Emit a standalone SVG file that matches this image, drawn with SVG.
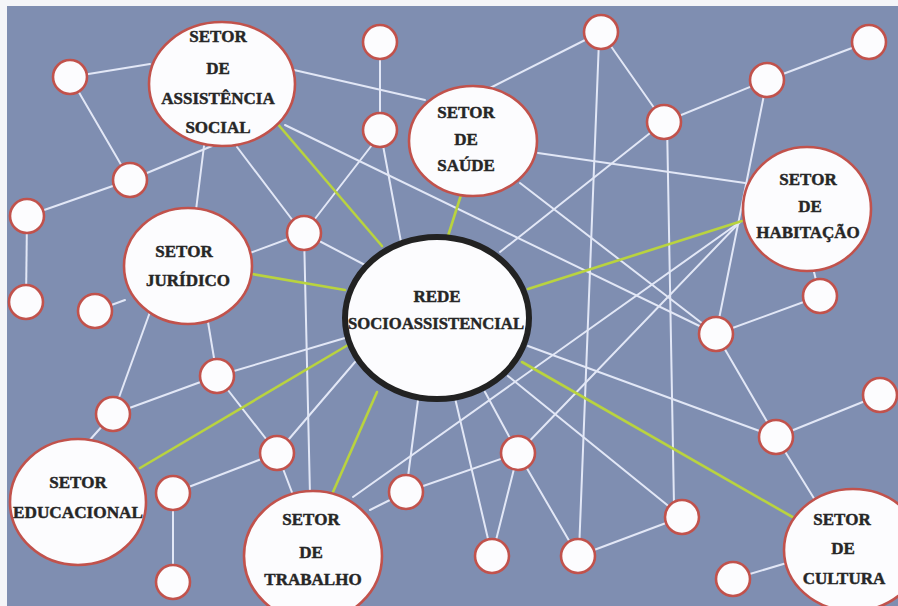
<svg xmlns="http://www.w3.org/2000/svg" width="898" height="606" viewBox="0 0 898 606">
<style>
.bg{fill:#7f8eb1}
.ln{stroke:#e2e7f6;stroke-width:2;fill:none;stroke-linecap:round}
.gr{stroke:#b9d33f;stroke-width:2.6;fill:none;stroke-linecap:round}
.sn{fill:#fcfcfe;stroke:#c1524c;stroke-width:2.6}
.big{fill:#fcfcfe;stroke:#c1524c;stroke-width:2.6}
.hub{fill:#fcfcfe;stroke:#222;stroke-width:6}
text{font-family:"Liberation Serif","DejaVu Serif",serif;font-weight:bold;font-size:17px;fill:#262626;stroke:#262626;stroke-width:0.45;text-anchor:middle}
</style>
<rect class="bg" x="0" y="0" width="898" height="606"/>
<rect x="0" y="0" width="898" height="6" fill="#f4f5f8"/>
<rect x="0" y="0" width="7" height="606" fill="#f4f5f8"/>
<g id="connectors">
<line class="ln" x1="70" y1="77" x2="150" y2="64"/>
<line class="ln" x1="70" y1="77" x2="130" y2="180"/>
<line class="ln" x1="130" y1="180" x2="212" y2="146"/>
<line class="ln" x1="130" y1="180" x2="27" y2="216"/>
<line class="ln" x1="27" y1="216" x2="26" y2="302"/>
<line class="ln" x1="204" y1="146" x2="196" y2="210"/>
<line class="ln" x1="237" y1="147" x2="300" y2="230"/>
<line class="ln" x1="294" y1="70" x2="425" y2="100"/>
<line class="ln" x1="285" y1="125" x2="716" y2="334"/>
<line class="ln" x1="380" y1="42" x2="380" y2="130"/>
<line class="ln" x1="372" y1="145" x2="304" y2="233"/>
<line class="ln" x1="382" y1="140" x2="401" y2="242"/>
<line class="ln" x1="490" y1="88" x2="601" y2="32"/>
<line class="ln" x1="538" y1="153" x2="745" y2="183"/>
<line class="ln" x1="520" y1="183" x2="716" y2="334"/>
<line class="ln" x1="601" y1="32" x2="664" y2="122"/>
<line class="ln" x1="599" y1="40" x2="579" y2="552"/>
<line class="ln" x1="664" y1="122" x2="767" y2="80"/>
<line class="ln" x1="767" y1="80" x2="868" y2="42"/>
<line class="ln" x1="667" y1="122" x2="674" y2="505"/>
<line class="ln" x1="664" y1="122" x2="500" y2="252"/>
<line class="ln" x1="767" y1="80" x2="716" y2="334"/>
<line class="ln" x1="813" y1="268" x2="820" y2="296"/>
<line class="ln" x1="820" y1="296" x2="716" y2="334"/>
<line class="ln" x1="740" y1="222" x2="518" y2="453"/>
<line class="ln" x1="740" y1="222" x2="353" y2="497"/>
<line class="ln" x1="716" y1="334" x2="776" y2="437"/>
<line class="ln" x1="776" y1="437" x2="880" y2="395"/>
<line class="ln" x1="776" y1="437" x2="815" y2="500"/>
<line class="ln" x1="528" y1="346" x2="776" y2="437"/>
<line class="ln" x1="508" y1="376" x2="682" y2="517"/>
<line class="ln" x1="485" y1="392" x2="518" y2="453"/>
<line class="ln" x1="455" y1="398" x2="492" y2="556"/>
<line class="ln" x1="418" y1="400" x2="406" y2="492"/>
<line class="ln" x1="355" y1="362" x2="277" y2="453"/>
<line class="ln" x1="304" y1="233" x2="365" y2="265"/>
<line class="ln" x1="304" y1="233" x2="310" y2="495"/>
<line class="ln" x1="250" y1="253" x2="304" y2="233"/>
<line class="ln" x1="125" y1="300" x2="95" y2="311"/>
<line class="ln" x1="208" y1="322" x2="217" y2="376"/>
<line class="ln" x1="150" y1="312" x2="113" y2="414"/>
<line class="ln" x1="217" y1="376" x2="345" y2="338"/>
<line class="ln" x1="217" y1="376" x2="113" y2="414"/>
<line class="ln" x1="217" y1="376" x2="277" y2="453"/>
<line class="ln" x1="113" y1="414" x2="88" y2="442"/>
<line class="ln" x1="277" y1="453" x2="173" y2="493"/>
<line class="ln" x1="277" y1="453" x2="293" y2="495"/>
<line class="ln" x1="173" y1="493" x2="173" y2="582"/>
<line class="ln" x1="518" y1="453" x2="406" y2="492"/>
<line class="ln" x1="406" y1="492" x2="370" y2="510"/>
<line class="ln" x1="518" y1="453" x2="492" y2="556"/>
<line class="ln" x1="518" y1="453" x2="578" y2="556"/>
<line class="ln" x1="578" y1="556" x2="682" y2="517"/>
<line class="ln" x1="790" y1="562" x2="733" y2="579"/>
<line class="gr" x1="276" y1="122" x2="382" y2="246"/>
<line class="gr" x1="461" y1="195" x2="448" y2="236"/>
<line class="gr" x1="252" y1="274" x2="345" y2="290"/>
<line class="gr" x1="528" y1="289" x2="742" y2="221"/>
<line class="gr" x1="348" y1="345" x2="140" y2="468"/>
<line class="gr" x1="377" y1="392" x2="333" y2="492"/>
<line class="gr" x1="522" y1="362" x2="796" y2="519"/>
</g>
<g id="n1"><circle class="sn" cx="70" cy="77" r="17"/></g>
<g id="n2"><circle class="sn" cx="130" cy="180" r="17"/></g>
<g id="n3"><circle class="sn" cx="27" cy="216" r="17"/></g>
<g id="n4"><circle class="sn" cx="26" cy="302" r="17"/></g>
<g id="n5"><circle class="sn" cx="95" cy="311" r="17"/></g>
<g id="n6"><circle class="sn" cx="380" cy="42" r="17"/></g>
<g id="n7"><circle class="sn" cx="380" cy="130" r="17"/></g>
<g id="n8"><circle class="sn" cx="304" cy="233" r="17"/></g>
<g id="n9"><circle class="sn" cx="601" cy="32" r="17"/></g>
<g id="n10"><circle class="sn" cx="664" cy="122" r="17"/></g>
<g id="n11"><circle class="sn" cx="767" cy="80" r="17"/></g>
<g id="n12"><circle class="sn" cx="869" cy="42" r="17"/></g>
<g id="n13"><circle class="sn" cx="820" cy="296" r="17"/></g>
<g id="n14"><circle class="sn" cx="716" cy="334" r="17"/></g>
<g id="n15"><circle class="sn" cx="880" cy="395" r="17"/></g>
<g id="n16"><circle class="sn" cx="217" cy="376" r="17"/></g>
<g id="n17"><circle class="sn" cx="113" cy="414" r="17"/></g>
<g id="n18"><circle class="sn" cx="776" cy="437" r="17"/></g>
<g id="n19"><circle class="sn" cx="277" cy="453" r="17"/></g>
<g id="n20"><circle class="sn" cx="173" cy="493" r="17"/></g>
<g id="n21"><circle class="sn" cx="173" cy="582" r="17"/></g>
<g id="n22"><circle class="sn" cx="518" cy="453" r="17"/></g>
<g id="n23"><circle class="sn" cx="406" cy="492" r="17"/></g>
<g id="n24"><circle class="sn" cx="492" cy="556" r="17"/></g>
<g id="n25"><circle class="sn" cx="578" cy="556" r="17"/></g>
<g id="n26"><circle class="sn" cx="682" cy="517" r="17"/></g>
<g id="n27"><circle class="sn" cx="733" cy="579" r="17"/></g>
<g id="assistencia"><ellipse class="big" cx="222" cy="84" rx="73" ry="62"/>
<text x="218" y="42">SETOR</text><text x="218" y="74">DE</text><text x="218" y="104">ASSISTÊNCIA</text><text x="218" y="133">SOCIAL</text></g>
<g id="saude"><ellipse class="big" cx="473" cy="141" rx="64" ry="55"/>
<text x="466" y="118">SETOR</text><text x="466" y="145">DE</text><text x="466" y="171">SAÚDE</text></g>
<g id="habitacao"><ellipse class="big" cx="807" cy="209" rx="64" ry="62"/>
<text x="808" y="185">SETOR</text><text x="810" y="212">DE</text><text x="808" y="238">HABITAÇÃO</text></g>
<g id="juridico"><ellipse class="big" cx="188" cy="266" rx="64" ry="58"/>
<text x="184" y="257">SETOR</text><text x="188" y="286">JURÍDICO</text></g>
<g id="rede"><ellipse class="hub" cx="437" cy="318" rx="92" ry="81"/>
<text x="437" y="302">REDE</text><text x="436" y="329" textLength="176" lengthAdjust="spacingAndGlyphs">SOCIOASSISTENCIAL</text></g>
<g id="educacional"><ellipse class="big" cx="78" cy="502" rx="68" ry="63"/>
<text x="78" y="518" textLength="130" lengthAdjust="spacingAndGlyphs">EDUCACIONAL</text><text x="78" y="488">SETOR</text></g>
<g id="trabalho"><ellipse class="big" cx="313" cy="556" rx="69" ry="65"/>
<text x="311" y="525">SETOR</text><text x="311" y="558">DE</text><text x="313" y="585">TRABALHO</text></g>
<g id="cultura"><ellipse class="big" cx="853" cy="550" rx="69" ry="61"/>
<text x="842" y="525">SETOR</text><text x="843" y="554">DE</text><text x="844" y="584">CULTURA</text></g>
</svg>
